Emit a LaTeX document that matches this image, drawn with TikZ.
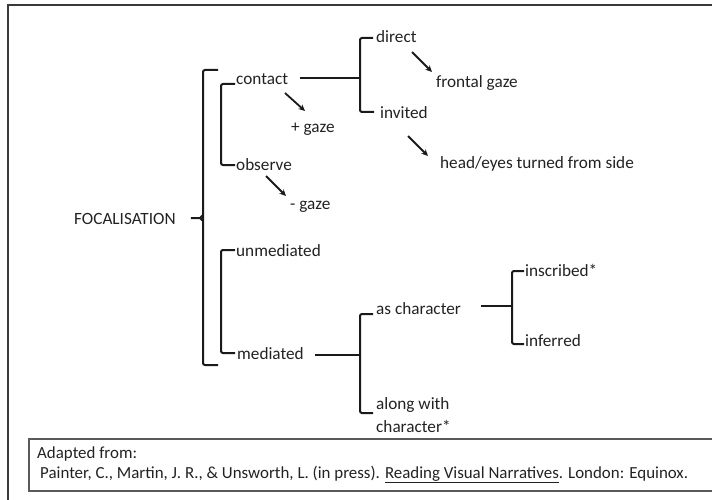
\documentclass[tikz,border=0pt]{standalone}
\usepackage{fontspec}
\setmainfont{Carlito}
\usetikzlibrary{arrows.meta}
\definecolor{txt}{HTML}{222222}
\definecolor{ln}{HTML}{1A1A1A}
\definecolor{frm}{HTML}{3A3A3A}
\definecolor{bx}{HTML}{5A5A5A}
\begin{document}
\begin{tikzpicture}[x=1pt,y=-1pt,
  lbl/.style={anchor=base west,inner sep=0pt,text=txt,font=\fontsize{17.2}{19}\selectfont},
  foot/.style={anchor=base west,inner sep=0pt,text=txt,font=\fontsize{16.9}{19}\selectfont},
  brk/.style={draw=ln,line width=2pt,rounded corners=2pt},
  hl/.style={draw=ln,line width=2pt},
  arr/.style={draw=ln,line width=1.8pt,-{Stealth[length=6.5pt,width=6pt]}},
  frame/.style={draw=frm,line width=1.5pt},
  fbox/.style={draw=bx,line width=1.2pt}]
\useasboundingbox (0,0) rectangle (712,500);
\clip (0,0) rectangle (712,500);
% outer frame
\draw[frame] (720,5) -- (8,5) -- (8,510);
% footer box
\draw[fbox] (720,439) -- (29,439) -- (29,491) -- (720,491);
\node[foot] (adapted) at (37,458) {Adapted from:};
\node[foot] (ref) at (40,478) {Painter, C., Martin, J. R., \& Unsworth, L. (in press). \underline{Reading Visual Narratives}. London: Equinox.};

% labels
\node[lbl] (foc) at (74,224) {FOCALISATION};
\node[lbl] (contact) at (236,85) {contact};
\node[lbl] (observe) at (236,170) {observe};
\node[lbl] (pgaze) at (291,133) {+ gaze};
\node[lbl] (mgaze) at (290,209) {- gaze};
\node[lbl] (direct) at (376,43) {direct};
\node[lbl] (frontal) at (436,88) {frontal gaze};
\node[lbl] (invited) at (380,119) {invited};
\node[lbl] (head) at (440,168) {head/eyes turned from side};
\node[lbl] (unmed) at (236,256) {unmediated};
\node[lbl] (med) at (237,359) {mediated};
\node[lbl] (aschar) at (376,314) {as character};
\node[lbl] (inscr) at (525,276) {inscribed*};
\node[lbl] (infer) at (525,346) {inferred};
\node[lbl] (along) at (376,409) {along with};
\node[lbl] (alongb) at (376,432) {character*};

% main bracket
\coordinate (mtop) at (218,70);
\coordinate (mbot) at (218,365);
\draw[brk] (mtop) -- (203,70) -- (203,365) -- (mbot);
\draw[hl] ([xshift=15pt]foc.east |- 0,218) -- (200,218) -- (203,215);
\draw[hl] (200,218) -- (203,221);

% contact / observe
\draw[brk] ([xshift=-1pt,yshift=1pt]contact.base west) -- (221,84) -- (221,165) -- ([xshift=-1pt,yshift=5pt]observe.base west);
% contact -> direct / invited
\coordinate (cx) at (360,78);
\draw[hl] ([xshift=12pt]contact.east |- cx) -- (cx);
\draw[brk] ([xshift=-3pt,yshift=5pt]direct.base west) -- (360,38) -- (360,112) -- ([xshift=-6pt,yshift=7pt]invited.base west);

% arrows
\coordinate (a1s) at (285,93); \coordinate (a1e) at (305,111);
\draw[arr] (a1s) -- (a1e);
\coordinate (a2s) at (266,176); \coordinate (a2e) at (286,196);
\draw[arr] (a2s) -- (a2e);
\coordinate (a3s) at (412,52); \coordinate (a3e) at (432,72);
\draw[arr] (a3s) -- (a3e);
\coordinate (a4s) at (408,136); \coordinate (a4e) at (428,156);
\draw[arr] (a4s) -- (a4e);

% unmediated / mediated
\draw[brk] ([xshift=-1pt,yshift=6pt]unmed.base west) -- (221,250) -- (221,353) -- ([xshift=-2pt,yshift=6pt]med.base west);
\coordinate (mx) at (360,355);
\draw[hl] ([xshift=11pt]med.east |- mx) -- (mx);
\draw[brk] ([xshift=-3pt]aschar.base west) -- (360,314) -- (360,413) -- ([xshift=-3pt,yshift=-4pt]along.base west);

% as character -> inscribed / inferred
\coordinate (ax) at (512,306);
\draw[hl] ([xshift=20pt]aschar.east |- ax) -- (ax);
\draw[brk] ([xshift=-1pt,yshift=5pt]inscr.base west) -- (512,271) -- (512,344) -- ([xshift=-1pt,yshift=2pt]infer.base west);
\end{tikzpicture}
\end{document}
